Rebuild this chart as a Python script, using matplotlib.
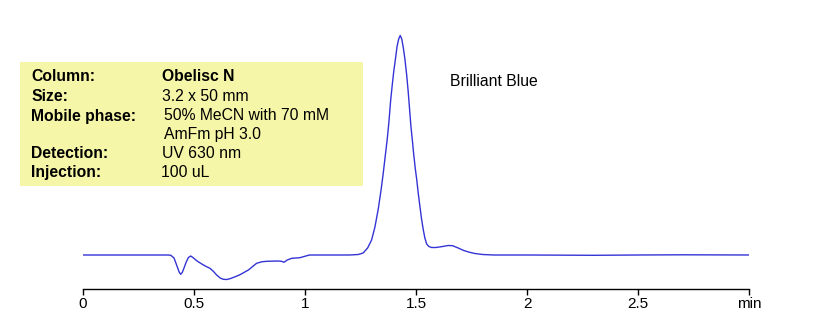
import matplotlib
matplotlib.use("Agg")
import matplotlib.pyplot as plt
from matplotlib.patches import Rectangle

# chromatogram trace (time in min, signal in arbitrary units)
time = [0.00, 0.20, 0.38, 0.395, 0.410, 0.425, 0.433, 0.440, 0.447, 0.455,
        0.465, 0.475, 0.485, 0.495, 0.512, 0.535, 0.555, 0.572, 0.588, 0.602,
        0.618, 0.632, 0.648, 0.662, 0.685, 0.707, 0.745, 0.782, 0.805, 0.827,
        0.880, 0.895, 0.905, 0.920, 0.940, 0.977, 1.020, 1.100, 1.200, 1.240,
        1.262, 1.282, 1.300, 1.315, 1.330, 1.342, 1.352, 1.362, 1.370, 1.378,
        1.386, 1.393, 1.400, 1.408, 1.415, 1.422, 1.429, 1.436, 1.443, 1.450,
        1.458, 1.465, 1.471, 1.477, 1.483, 1.490, 1.497, 1.503, 1.510, 1.518,
        1.525, 1.533, 1.540, 1.548, 1.558, 1.570, 1.590, 1.620, 1.645, 1.665,
        1.690, 1.715, 1.740, 1.765, 1.800, 1.850, 2.00, 2.30, 2.50, 2.70, 3.01]
signal = [0.0, 0.0, 0.0, -0.2, -3.0, -12.0, -17.0, -19.3, -17.5, -13.0,
          -7.0, -2.5, -1.0, -2.5, -5.7, -9.0, -11.5, -13.3, -16.5, -20.0,
          -23.0, -24.3, -24.5, -23.7, -21.8, -19.7, -15.0, -8.3, -6.8, -6.3,
          -6.0, -6.3, -7.3, -5.0, -3.3, -2.7, 0.0, 0.0, 0.0, 0.5,
          2.0, 7.0, 15.0, 28.0, 46.0, 64.0, 81.0, 100.0, 115.0, 133.0,
          155.0, 170.0, 184.0, 197.0, 209.0, 216.0, 219.5, 216.0, 207.0, 196.0,
          180.0, 163.0, 146.0, 129.0, 116.0, 100.0, 86.0, 76.0, 62.0, 48.0,
          36.0, 25.0, 17.0, 11.0, 8.5, 7.5, 7.5, 8.5, 9.5, 9.3,
          7.0, 4.5, 2.8, 1.5, 0.5, 0.0, 0.0, -0.3, 0.0, 0.2, 0.0]

tick_pos = [0, 0.5, 1, 1.5, 2, 2.5, 3]
tick_labels = ["0", "0.5", "1", "1.5", "2", "2.5", "min"]

info_labels = ["Column:", "Size:", "Mobile phase:", "", "Detection:", "Injection:"]
info_values = ["Obelisc N", "3.2 x 50 mm", "50% MeCN with 70 mM", "AmFm pH 3.0",
               "UV 630 nm", "100 uL"]
peak_label = "Brilliant Blue"

W, H = 834, 332
plt.rcParams["font.family"] = ["Liberation Sans", "DejaVu Sans"]

fig = plt.figure(figsize=(W / 100, H / 100), dpi=100)


def fx(px):
    return px / W


def fy(py):
    return 1 - py / H


# axes placed so that 0..3 min spans px 83..749, axis line at py 289
ax = fig.add_axes([fx(83), fy(289), fx(749) - fx(83), fy(20) - fy(289)])
ax.plot(time, signal, color="#3434d6", lw=1.0)
ax.set_xlim(0, 3)
ax.set_ylim(-34, 235)

for s in ["top", "right", "left"]:
    ax.spines[s].set_visible(False)
ax.spines["bottom"].set_linewidth(1.0)
ax.set_yticks([])
ax.set_xticks(tick_pos)
ax.set_xticklabels(tick_labels, fontsize=11)
ax.tick_params(axis="x", direction="out", length=4, width=1, pad=1.5)
ax.patch.set_alpha(0)

# yellow info box
fig.patches.append(Rectangle((fx(20), fy(186)), fx(363) - fx(20), fy(62) - fy(186),
                             transform=fig.transFigure, facecolor="#f6f6a8",
                             edgecolor="none", zorder=0))

rows_y = [76.7, 96.7, 116, 135, 154, 172.3]
value_x = [162, 161.5, 163.5, 164.5, 162, 161]
for i in range(len(rows_y)):
    if info_labels[i]:
        fig.text(fx(31), fy(rows_y[i]), info_labels[i], fontsize=11.3, weight="bold",
                 va="center", ha="left")
    fig.text(fx(value_x[i]), fy(rows_y[i]), info_values[i], fontsize=11.3,
             weight="bold" if i == 0 else "normal", va="center", ha="left")

fig.text(fx(450), fy(81), peak_label, fontsize=11.3, va="center", ha="left")

fig.savefig("out.png", dpi=100)
